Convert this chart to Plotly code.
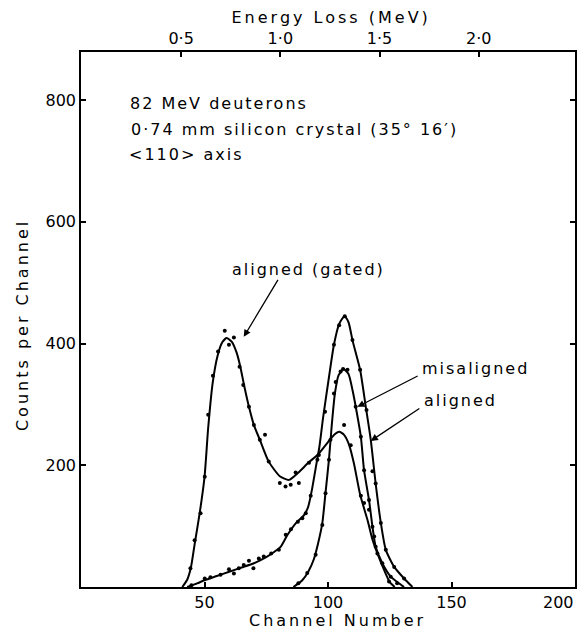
import plotly.graph_objects as go

# ---------------- data ----------------
# energy-loss calibration of the channel scale (MeV per channel, offset)
MEV_PER_CHANNEL = 0.012453
MEV_OFFSET = -0.005

channel_range = [0, 200]
counts_range = [0, 879]

x_tick_vals = [50, 100, 150, 200]
y_tick_vals = [200, 400, 600, 800]
energy_tick_vals = [0.5, 1.0, 1.5, 2.0]
energy_tick_text = ["0·5", "1·0", "1·5", "2·0"]

# aligned (gated) - smooth curve
gated_ch = [41, 43, 44.5, 46, 48, 50, 51.5, 53.3, 55.3, 57.2, 59, 61, 63, 64.5, 66, 68, 70,
            72.4, 76, 80.5, 84.2, 88, 92, 96, 100, 102.5, 104.5, 106.5, 108.5, 110.5, 113,
            116, 118, 120, 122.7, 125, 127]
gated_counts = [0, 12, 32, 70, 120, 180, 262, 335, 380, 402, 409, 403, 385, 362, 332, 296, 266,
                242, 206, 182, 176, 188, 204, 218, 238, 250, 255, 250, 234, 203, 152,
                110, 78, 55, 28, 8, 0]
# aligned (gated) - measured points
gated_pts_ch = [44.3, 46, 48.4, 50.1, 51.5, 53.4, 55.5, 58.2, 59.9, 61.9, 64.2, 65.7, 68, 70,
                72.4, 74.5, 76, 80.5, 82.8, 84.9, 86.9, 88.2, 92.3, 96.3, 101, 106.5, 109.2,
                113.3, 114.6, 116.6, 118.7, 120, 124.7]
gated_pts_counts = [31, 77, 121, 181, 283, 347, 387, 421, 398, 410, 362, 332, 296, 266,
                    242, 250, 206, 171, 165, 168, 188, 171, 204, 217, 242, 266, 233,
                    150, 138, 127, 83, 55, 9]

# aligned (ungated) - smooth curve
aligned_ch = [43, 47, 50, 55, 60, 65, 70, 75, 78, 80.8, 83.5, 87, 90.3, 92, 93.5, 95, 96.5, 98,
              100.4, 102.4, 104.5, 106.7, 108.3, 110, 113, 115.3, 117.3, 119.3, 121.4, 123.4,
              126.8, 130.8, 134.2]
aligned_counts = [0, 6, 11, 18, 25, 32, 39, 49, 57, 66, 85, 105, 118, 132, 160, 195, 230, 278,
                  345, 398, 432, 445, 435, 404, 357, 296, 242, 170, 105, 61,
                  33, 14, 0]
aligned_pts_ch = [44.7, 50.1, 52.4, 56.5, 59.9, 61.9, 63.9, 65.9, 68, 69.8, 72, 74, 77, 80.1,
                  82.9, 85, 87.8, 89.6, 91, 93, 95.7, 98.8, 102.4, 104.5, 106.8, 109.9, 113,
                  115.6, 118, 119.3, 121.4, 123.4, 126.8, 130.8]
aligned_pts_counts = [3, 14, 16, 20, 29, 22, 31, 36, 43, 31, 47, 50, 55, 61,
                      86, 95, 107, 113, 121, 150, 209, 288, 398, 430, 445, 406, 357,
                      291, 190, 170, 105, 61, 33, 14]

# misaligned - smooth curve
misaligned_ch = [86, 89.6, 92, 94.3, 96, 97.7, 99, 100.4, 101.5, 102.8, 104.3, 106.3, 108.3,
                 110, 111.5, 113.3, 114.6, 116.6, 118, 119.3, 122, 125.4, 130.8]
misaligned_counts = [0, 11, 25, 46, 72, 105, 155, 210, 265, 318, 348, 358, 350,
                     322, 290, 247, 192, 143, 99, 66, 39, 17, 0]
misaligned_pts_ch = [88, 91.6, 95, 97.7, 99, 100.4, 102.4, 103.1, 105.1, 106.1, 107.9, 111.2,
                     113.3, 114.6, 116.6, 118, 119.3, 122, 125.4, 128]
misaligned_pts_counts = [6, 23, 53, 102, 154, 209, 318, 337, 354, 358, 357, 296,
                         247, 192, 143, 99, 66, 39, 17, 6]

# labels (text centres in data units)
info_lines = ["82 MeV deuterons",
              "0·74 mm silicon crystal (35° 16′)",
              "&lt;110&gt; axis"]
info_x = [55.8, 86.4, 42.6]
info_y = [795, 751, 710]

curve_labels = ["aligned (gated)", "misaligned", "aligned"]
label_pos = [(92, 521), (159.8, 359), (153.5, 307)]
arrow_tail = [(80.1, 507), (136.9, 348), (137.6, 295)]
arrow_tip = [(65.9, 411), (111.9, 296), (117.3, 240)]

x_title = "Channel Number"
x2_title = "Energy Loss (MeV)"
y_title = "Counts per Channel"

# ---------------- figure ----------------
FONT = "DejaVu Sans"
INK = "black"

fig = go.Figure()

curves = [(gated_ch, gated_counts, gated_pts_ch, gated_pts_counts),
          (aligned_ch, aligned_counts, aligned_pts_ch, aligned_pts_counts),
          (misaligned_ch, misaligned_counts, misaligned_pts_ch, misaligned_pts_counts)]
for cx, cy, px, py in curves:
    fig.add_trace(go.Scatter(x=cx, y=cy, mode="lines",
                             line=dict(color=INK, width=2, shape="spline", smoothing=0.6),
                             hoverinfo="skip", showlegend=False))
    fig.add_trace(go.Scatter(x=px, y=py, mode="markers",
                             marker=dict(color=INK, size=4),
                             showlegend=False))

# invisible traces on the extra axes so that they are drawn
fig.add_trace(go.Scatter(x=[energy_tick_vals[0]], y=[0], xaxis="x2", mode="markers",
                         marker=dict(opacity=0), hoverinfo="skip", showlegend=False))
fig.add_trace(go.Scatter(x=[x_tick_vals[0]], y=[0], xaxis="x3", mode="markers",
                         marker=dict(opacity=0), hoverinfo="skip", showlegend=False))

annotations = []
for txt, xx, yy in zip(info_lines, info_x, info_y):
    annotations.append(dict(x=xx, y=yy, xref="x", yref="y", text=txt, showarrow=False,
                            xanchor="center", yanchor="middle",
                            font=dict(family=FONT, size=16, color=INK)))
for i, txt in enumerate(curve_labels):
    annotations.append(dict(x=label_pos[i][0], y=label_pos[i][1], xref="x", yref="y", text=txt,
                            showarrow=False, xanchor="center", yanchor="middle",
                            font=dict(family=FONT, size=16, color=INK)))
    annotations.append(dict(x=arrow_tip[i][0], y=arrow_tip[i][1], ax=arrow_tail[i][0],
                            ay=arrow_tail[i][1], xref="x", yref="y", axref="x", ayref="y",
                            text="", showarrow=True, arrowhead=2, arrowsize=1.1,
                            arrowwidth=1.3, arrowcolor=INK, standoff=0, startstandoff=0))
# axis titles
first_title_index = len(annotations)
annotations.append(dict(x=0.52, y=-0.062, xref="paper", yref="paper", text=x_title,
                        showarrow=False, xanchor="center", yanchor="middle",
                        font=dict(family=FONT, size=16, color=INK)))
annotations.append(dict(x=0.506, y=1.065, xref="paper", yref="paper", text=x2_title,
                        showarrow=False, xanchor="center", yanchor="middle",
                        font=dict(family=FONT, size=16, color=INK)))
annotations.append(dict(x=-0.117, y=0.49, xref="paper", yref="paper", text=y_title,
                        showarrow=False, xanchor="center", yanchor="middle", textangle=-90,
                        font=dict(family=FONT, size=16, color=INK)))

axis_common = dict(showgrid=False, zeroline=False, showline=True, linecolor=INK, linewidth=1.5,
                   ticks="inside", ticklen=5, tickwidth=1.5, tickcolor=INK,
                   tickfont=dict(family=FONT, size=16, color=INK))

fig.update_layout(
    width=588, height=633,
    margin=dict(l=81, r=13, t=52, b=46),
    paper_bgcolor="white", plot_bgcolor="white",
    xaxis=dict(range=channel_range, tickvals=x_tick_vals[:-1], mirror=False, **axis_common),
    # last channel label sits left of its tick, at the plot corner
    xaxis3=dict(range=channel_range, overlaying="x", side="bottom", tickvals=x_tick_vals[-1:],
                ticklabelposition="outside left", ticklabeloverflow="allow", **axis_common),
    xaxis2=dict(range=[MEV_OFFSET + MEV_PER_CHANNEL * channel_range[0],
                       MEV_OFFSET + MEV_PER_CHANNEL * channel_range[1]],
                overlaying="x", side="top", tickvals=energy_tick_vals,
                ticktext=energy_tick_text, **axis_common),
    yaxis=dict(range=counts_range, tickvals=y_tick_vals, mirror="ticks", **axis_common),
    annotations=annotations,
    hovermode=False,
)

title_css = " ".join(
    'g.annotation[data-index="%d"] .annotation-text{letter-spacing:3px;}' % k
    for k in range(first_title_index, first_title_index + 3))
post = """
var st = document.createElement('style');
st.textContent = 'html,body{margin:0;padding:0;overflow:hidden;} .annotation-text{letter-spacing:2px;} %s';
document.head.appendChild(st);
""" % title_css
fig.write_html("out.html", post_script=post, config={"displayModeBar": False})
